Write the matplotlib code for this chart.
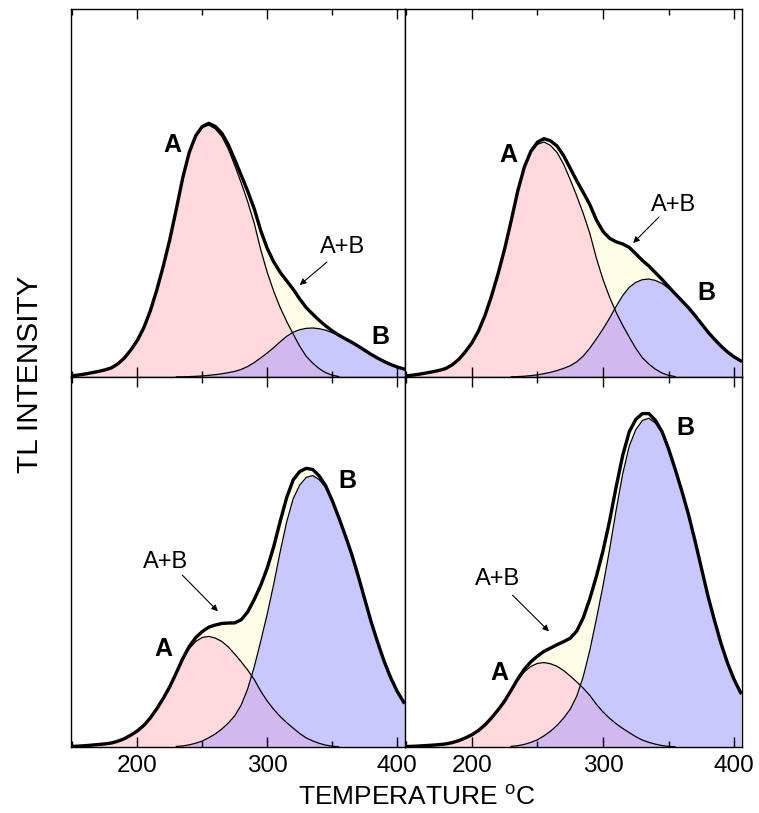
import numpy as np
import matplotlib
matplotlib.use('Agg')
import matplotlib.pyplot as plt
from matplotlib.ticker import MultipleLocator

plt.rcParams['font.family'] = ['Liberation Sans', 'DejaVu Sans']
plt.rcParams['mathtext.fontset'] = 'custom'
plt.rcParams['mathtext.rm'] = 'Liberation Sans'

# temperature grid (deg C) the curves were read on
temps = list(range(150, 410, 5))

# normalised glow peak shapes
shape_a = [0.005, 0.008, 0.012, 0.017, 0.022, 0.028, 0.036, 0.052, 0.075, 0.107,
           0.145, 0.195, 0.262, 0.345, 0.44, 0.545, 0.665, 0.79, 0.89, 0.955,
           0.99, 1.0, 0.985, 0.955, 0.905, 0.84, 0.77, 0.695, 0.61, 0.505,
           0.415, 0.34, 0.275, 0.22, 0.17, 0.122, 0.082, 0.055, 0.033, 0.017,
           0.007, 0.002, 0, 0, 0, 0, 0, 0, 0, 0, 0, 0]
shape_b = [0, 0, 0, 0, 0, 0, 0, 0, 0, 0, 0, 0, 0, 0, 0, 0,
           0.002, 0.004, 0.008, 0.014, 0.022, 0.034, 0.048, 0.066, 0.088, 0.115,
           0.155, 0.215, 0.295, 0.39, 0.49, 0.6, 0.72, 0.83, 0.915, 0.965,
           0.993, 1.0, 0.985, 0.955, 0.905, 0.845, 0.78, 0.71, 0.63, 0.545,
           0.46, 0.385, 0.315, 0.255, 0.205, 0.165]

# peak heights per panel: top-left, top-right, bottom-left, bottom-right
amp_a = [252, 235, 110, 84]
amp_b = [49, 98, 270, 327]

# label spots (temperature, height) per panel
pos_a = [(227, 232), (227.5, 222), (220, 97), (220.6, 74)]
pos_b = [(387, 40), (378.6, 84), (362, 265), (363, 317)]
pos_ab = [(358, 130), (354, 172), (222, 184), (219.8, 167)]
arrows = [((346, 115), (325, 92)), ((342.7, 160), (323, 134)),
          ((234.6, 171), (262, 135)), ((231, 151), (258.8, 115))]

pink = '#ffd9dc'
blue = '#c8c8ff'
purple = '#d1b9ef'
yellow = '#fffce8'

fig = plt.figure(figsize=(7.59, 8.13), dpi=100)

left, mid, right = 71 / 759, 405 / 759, 742 / 759
top, hmid, bottom = 1 - 9 / 813, 1 - 377 / 813, 1 - 747 / 813
boxes = [[left, hmid, mid - left, top - hmid],
         [mid, hmid, right - mid, top - hmid],
         [left, bottom, mid - left, hmid - bottom],
         [mid, bottom, right - mid, hmid - bottom]]

t = np.array(temps)
sa = np.array(shape_a)
sb = np.array(shape_b)

for i in range(4):
    ax = fig.add_axes(boxes[i])
    a = amp_a[i] * sa
    b = amp_b[i] * sb
    total = a + b

    # filled areas: sum, A only, B only, overlap
    ax.fill_between(t, 0, total, color=yellow, lw=0)
    ax.fill_between(t, 0, a, color=pink, lw=0)
    ax.fill_between(t, 0, b, color=blue, lw=0)
    ax.fill_between(t, 0, np.minimum(a, b), color=purple, lw=0)

    ma = a > 0
    mb = b > 0
    ax.plot(t[ma], a[ma], color='black', lw=0.9)
    ax.plot(t[mb], b[mb], color='black', lw=0.9)
    ax.plot(t, total, color='black', lw=2.4, solid_joinstyle='round')

    ax.text(pos_a[i][0], pos_a[i][1], 'A', fontsize=18, fontweight='bold',
            ha='center', va='center')
    ax.text(pos_b[i][0], pos_b[i][1], 'B', fontsize=18, fontweight='bold',
            ha='center', va='center')
    ax.text(pos_ab[i][0], pos_ab[i][1], 'A+B', fontsize=17,
            ha='center', va='center')
    ax.annotate('', xy=arrows[i][1], xytext=arrows[i][0],
                arrowprops=dict(arrowstyle='-|>', color='black', lw=0.8,
                                mutation_scale=9, shrinkA=0, shrinkB=0))

    ax.set_xlim(149, 406)
    ax.set_ylim(0, 368)
    ax.xaxis.set_major_locator(MultipleLocator(100))
    ax.xaxis.set_minor_locator(MultipleLocator(50))
    ax.tick_params(axis='x', which='both', direction='in', top=True, bottom=True,
                   labelsize=17.5, pad=6, width=1)
    ax.tick_params(axis='x', which='major', length=7)
    ax.tick_params(axis='x', which='minor', length=4)
    ax.set_yticks([])
    if i < 2:
        ax.set_xticklabels([])
    for s in ax.spines.values():
        s.set_linewidth(1.0)

fig.text(30 / 759, 1 - 374 / 813, 'TL INTENSITY', rotation=90, fontsize=21.5,
         ha='center', va='center')
fig.text(417 / 759, 1 - 797 / 813, 'TEMPERATURE $^{\\rm o}$C', fontsize=19,
         ha='center', va='center')

plt.savefig('out.png', dpi=100)
plt.close()
